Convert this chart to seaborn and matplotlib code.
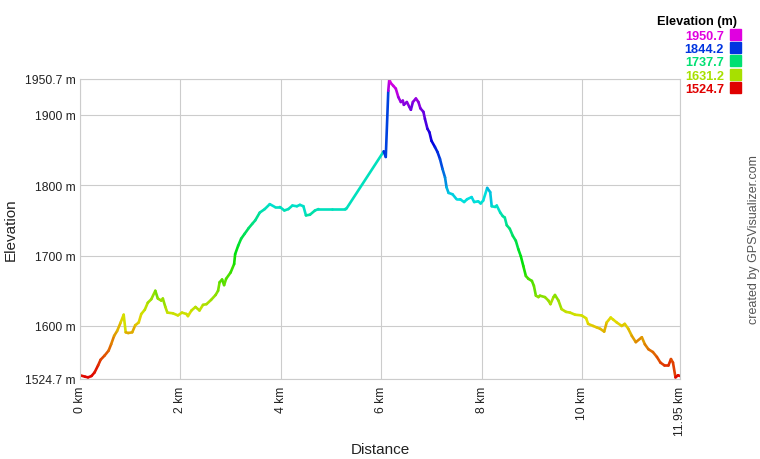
import numpy as np
import pandas as pd
import matplotlib
matplotlib.use('Agg')
import matplotlib.pyplot as plt
import seaborn as sns
from matplotlib.colors import ListedColormap, Normalize, hsv_to_rgb
from matplotlib.patches import Rectangle

# ---------------- data ----------------
distance_km = [0.00, 0.10, 0.16, 0.23, 0.29, 0.36, 0.41, 0.49, 0.57, 0.62, 0.68, 0.74, 0.81, 0.87, 0.91,
               0.96, 1.04, 1.10, 1.17, 1.22, 1.29, 1.35, 1.42, 1.50, 1.55, 1.62, 1.65, 1.70, 1.74, 1.85,
               1.95, 2.03, 2.12, 2.15, 2.22, 2.30, 2.38, 2.45, 2.52, 2.61, 2.70, 2.75, 2.78, 2.83, 2.87,
               2.91, 3.00, 3.07, 3.09, 3.15, 3.21, 3.28, 3.36, 3.43, 3.49, 3.58, 3.68, 3.78, 3.88, 3.98,
               4.07, 4.15, 4.23, 4.32, 4.38, 4.45, 4.50, 4.58, 4.68, 4.75, 5.01, 5.28, 5.31,
               6.05, 6.09, 6.14, 6.16, 6.19, 6.24, 6.29,
               6.34, 6.39, 6.43, 6.45, 6.51, 6.56, 6.59, 6.63, 6.69, 6.74, 6.78, 6.84, 6.87, 6.92, 6.96,
               7.00, 7.07, 7.12, 7.17, 7.22, 7.27, 7.30, 7.34, 7.42, 7.50, 7.57, 7.65, 7.71, 7.80, 7.85,
               7.93, 7.98, 8.03, 8.11, 8.17, 8.20, 8.27, 8.30, 8.37, 8.42, 8.46, 8.50, 8.56, 8.62, 8.68,
               8.73, 8.78, 8.83, 8.88, 8.93, 9.00, 9.04, 9.08, 9.13, 9.16, 9.26, 9.33, 9.37, 9.43, 9.46,
               9.53, 9.59, 9.68, 9.76, 9.86, 9.99, 10.08, 10.12, 10.22, 10.29, 10.36, 10.44, 10.49, 10.57,
               10.62, 10.69, 10.79, 10.85, 10.92, 10.99, 11.07, 11.19, 11.25, 11.32, 11.41, 11.49, 11.56,
               11.64, 11.72, 11.77, 11.81, 11.86, 11.91, 11.95]
elevation_m = [1530, 1528, 1527, 1529, 1534, 1544, 1552, 1558, 1565, 1574, 1586, 1593, 1605, 1616, 1591,
               1590, 1591, 1601, 1605, 1617, 1623, 1633, 1638, 1650, 1639, 1636, 1639, 1627, 1619, 1618,
               1615, 1619, 1617, 1614, 1622, 1627, 1622, 1630, 1631, 1637, 1644, 1650, 1662, 1666, 1658,
               1667, 1676, 1688, 1702, 1714, 1724, 1731, 1739, 1745, 1750, 1761, 1766, 1773, 1769, 1769,
               1764, 1766, 1771, 1770, 1772, 1770, 1757, 1758, 1764, 1766, 1766, 1766, 1767,
               1848, 1840, 1934, 1950, 1945, 1941, 1937,
               1925, 1918, 1920, 1914, 1918, 1911, 1907, 1918, 1923, 1918, 1909, 1904, 1894, 1880, 1875,
               1863, 1854, 1847, 1837, 1823, 1811, 1797, 1789, 1787, 1780, 1780, 1776, 1780, 1783, 1776,
               1777, 1774, 1778, 1796, 1790, 1770, 1769, 1771, 1761, 1756, 1754, 1743, 1738, 1728, 1721,
               1709, 1699, 1685, 1671, 1667, 1664, 1657, 1643, 1641, 1643, 1641, 1636, 1631, 1641, 1644,
               1636, 1624, 1620, 1619, 1616, 1615, 1611, 1603, 1600, 1598, 1596, 1592, 1605, 1612,
               1609, 1605, 1600, 1603, 1596, 1586, 1577, 1584, 1574, 1567, 1563, 1556, 1548,
               1544, 1544, 1553, 1548, 1527, 1530, 1529]

x_ticks = [0, 2, 4, 6, 8, 10, 11.95]
x_tick_labels = ['0 km', '2 km', '4 km', '6 km', '8 km', '10 km', '11.95 km']
y_ticks = [1524.7, 1600, 1700, 1800, 1900, 1950.7]
y_tick_labels = ['1524.7 m', '1600 m', '1700 m', '1800 m', '1900 m', '1950.7 m']
legend_values = [1950.7, 1844.2, 1737.7, 1631.2, 1524.7]

elev_min, elev_max = 1524.7, 1950.7

# hue goes red -> magenta with elevation
hues = np.linspace(0, 300 / 360, 256)
cmap = ListedColormap(hsv_to_rgb(np.column_stack([hues, np.ones(256), np.full(256, 0.88)])))
norm = Normalize(elev_min, elev_max)

# each segment is its own group, coloured by the elevation where it starts
rows = []
for i in range(len(distance_km) - 1):
    for j in (i, i + 1):
        rows.append({'seg': i, 'km': distance_km[j], 'elev': elevation_m[j]})
seg_df = pd.DataFrame(rows)
seg_colors = {i: cmap(norm(elevation_m[i])) for i in range(len(distance_km) - 1)}

# ---------------- plot ----------------
sns.set_style('white')
plt.rcParams['font.family'] = ['Liberation Sans', 'DejaVu Sans']

fig = plt.figure(figsize=(7.6, 4.6), dpi=100)
ax = fig.add_axes([80 / 760, 80 / 460, 600 / 760, 300 / 460])

sns.lineplot(data=seg_df, x='km', y='elev', hue='seg', units='seg', palette=seg_colors,
             estimator=None, sort=False, legend=False, linewidth=1.9,
             solid_capstyle='round', ax=ax)

ax.set_xlim(0, 11.95)
ax.set_ylim(elev_min, elev_max)
ax.set_xticks(x_ticks)
ax.set_xticklabels(x_tick_labels, rotation=90, fontsize=8.7, color='#222222')
ax.set_yticks(y_ticks)
ax.set_yticklabels(y_tick_labels, fontsize=8.7, color='#222222')
ax.tick_params(axis='both', length=0)
ax.tick_params(axis='x', pad=5)
ax.tick_params(axis='y', pad=3)
ax.grid(True, color='#cccccc', linewidth=0.8)
for s in ax.spines.values():
    s.set_color('#cccccc')
    s.set_linewidth(0.8)

ax.set_xlabel('Distance', fontsize=11, color='#222222', va='center')
ax.xaxis.set_label_coords(0.5, -0.232)
ax.set_ylabel('Elevation', fontsize=11, color='#222222', va='center')
ax.yaxis.set_label_coords(-0.115, 0.5)

# legend in the top right corner
fig.text(737 / 760, 1 - 22.5 / 460, 'Elevation (m)', ha='right', va='center',
         fontsize=9.2, fontweight='bold', color='black')
for k, val in enumerate(legend_values):
    yc = 35.5 + k * 13.2
    col = cmap(norm(val))
    fig.text(724 / 760, 1 - (yc + 1.5) / 460, f'{val:.1f}', ha='right', va='center',
             fontsize=9.2, fontweight='bold', color=col)
    fig.patches.append(Rectangle((730 / 760, 1 - (yc + 5.5) / 460), 11 / 760, 11 / 460,
                                 transform=fig.transFigure, color=col, figure=fig))

fig.text(754 / 760, 1 - 240 / 460, 'created by GPSVisualizer.com', rotation=90,
         ha='center', va='center', fontsize=9, color='#555555')

fig.savefig('out.png', dpi=100)
